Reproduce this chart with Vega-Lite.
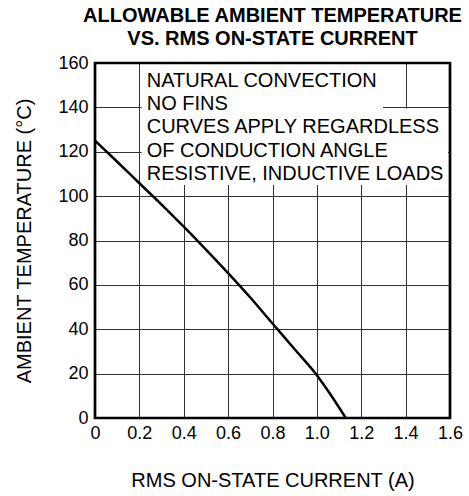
{
  "$schema": "https://vega.github.io/schema/vega-lite/v6.json",
  "width": 355,
  "height": 355,
  "autosize": {"type": "none"},
  "padding": {"left": 95, "top": 63, "right": 19, "bottom": 78},
  "background": "white",
  "config": {"font": "Liberation Sans", "view": {"stroke": null}},
  "title": {
    "text": ["ALLOWABLE AMBIENT TEMPERATURE", "VS. RMS ON-STATE CURRENT"],
    "fontSize": 20,
    "fontWeight": "bold",
    "lineHeight": 23,
    "frame": "group",
    "anchor": "middle",
    "offset": 5,
    "color": "black",
    "font": "Liberation Sans"
  },
  "layer": [
    {
      "data": {"values": [{}]},
      "mark": {"type": "rect", "fill": "white", "strokeWidth": 0},
      "encoding": {
        "x": {"datum": 0.2105, "type": "quantitative"},
        "x2": {"datum": 1.298},
        "y": {"datum": 160, "type": "quantitative"},
        "y2": {"datum": 139}
      }
    },
    {
      "data": {"values": [{}]},
      "mark": {"type": "rect", "fill": "white", "strokeWidth": 0},
      "encoding": {
        "x": {"datum": 0.2105, "type": "quantitative"},
        "x2": {"datum": 1.591},
        "y": {"datum": 139.5, "type": "quantitative"},
        "y2": {"datum": 105}
      }
    },
    {
      "data": {"values": [{}]},
      "mark": {"type": "text", "align": "left", "baseline": "alphabetic", "fontSize": 20, "lineHeight": 23.3, "color": "black", "font": "Liberation Sans"},
      "encoding": {
        "x": {"datum": 0.233, "type": "quantitative"},
        "y": {"datum": 149.3, "type": "quantitative"},
        "text": {"value": ["NATURAL CONVECTION", "NO FINS", "CURVES APPLY REGARDLESS", "OF CONDUCTION ANGLE", "RESISTIVE, INDUCTIVE LOADS"]}
      }
    },
    {
      "data": {"values": [
        {"current": 0, "temp": 125},
        {"current": 0.1, "temp": 115.5},
        {"current": 0.2, "temp": 105.8},
        {"current": 0.3, "temp": 96.2},
        {"current": 0.4, "temp": 86.2},
        {"current": 0.5, "temp": 75.9},
        {"current": 0.6, "temp": 65.3},
        {"current": 0.7, "temp": 54.3},
        {"current": 0.8, "temp": 42.6},
        {"current": 0.9, "temp": 31},
        {"current": 1.0, "temp": 19.3},
        {"current": 1.06, "temp": 10.8},
        {"current": 1.13, "temp": 0}
      ]},
      "mark": {"type": "line", "color": "black", "strokeWidth": 2.5, "interpolate": "monotone"},
      "encoding": {
        "x": {
          "field": "current",
          "type": "quantitative",
          "scale": {"domain": [0, 1.6], "nice": false, "zero": false},
          "axis": {
            "title": "RMS ON-STATE CURRENT  (A)",
            "values": [0, 0.2, 0.4, 0.6, 0.8, 1.0, 1.2, 1.4, 1.6],
            "labelExpr": "datum.value == 0 ? '0' : format(datum.value, '.1f')",
            "grid": true,
            "gridColor": "#333",
            "gridWidth": 1,
            "ticks": false,
            "domain": false,
            "labelFont": "Liberation Sans",
            "labelFontSize": 18,
            "labelColor": "black",
            "labelPadding": 6,
            "labelFlush": false,
            "labelOverlap": false,
            "labelBound": false,
            "titleFont": "Liberation Sans",
            "titleFontSize": 20,
            "titleFontWeight": "normal",
            "titleColor": "black",
            "titlePadding": 28
          }
        },
        "y": {
          "field": "temp",
          "type": "quantitative",
          "scale": {"domain": [0, 160], "nice": false},
          "axis": {
            "title": "AMBIENT TEMPERATURE  (°C)",
            "values": [0, 20, 40, 60, 80, 100, 120, 140, 160],
            "grid": true,
            "gridColor": "#333",
            "gridWidth": 1,
            "ticks": false,
            "domain": false,
            "labelFont": "Liberation Sans",
            "labelFontSize": 18,
            "labelColor": "black",
            "labelPadding": 7,
            "labelFlush": false,
            "labelOverlap": false,
            "labelBound": false,
            "titleFont": "Liberation Sans",
            "titleFontSize": 20,
            "titleFontWeight": "normal",
            "titleColor": "black",
            "titlePadding": 23
          }
        }
      }
    },
    {
      "data": {"values": [{}]},
      "mark": {"type": "rect", "fill": null, "fillOpacity": 0, "stroke": "black", "strokeWidth": 2.7},
      "encoding": {
        "x": {"datum": 0, "type": "quantitative"},
        "x2": {"datum": 1.6},
        "y": {"datum": 0, "type": "quantitative"},
        "y2": {"datum": 160}
      }
    }
  ]
}
